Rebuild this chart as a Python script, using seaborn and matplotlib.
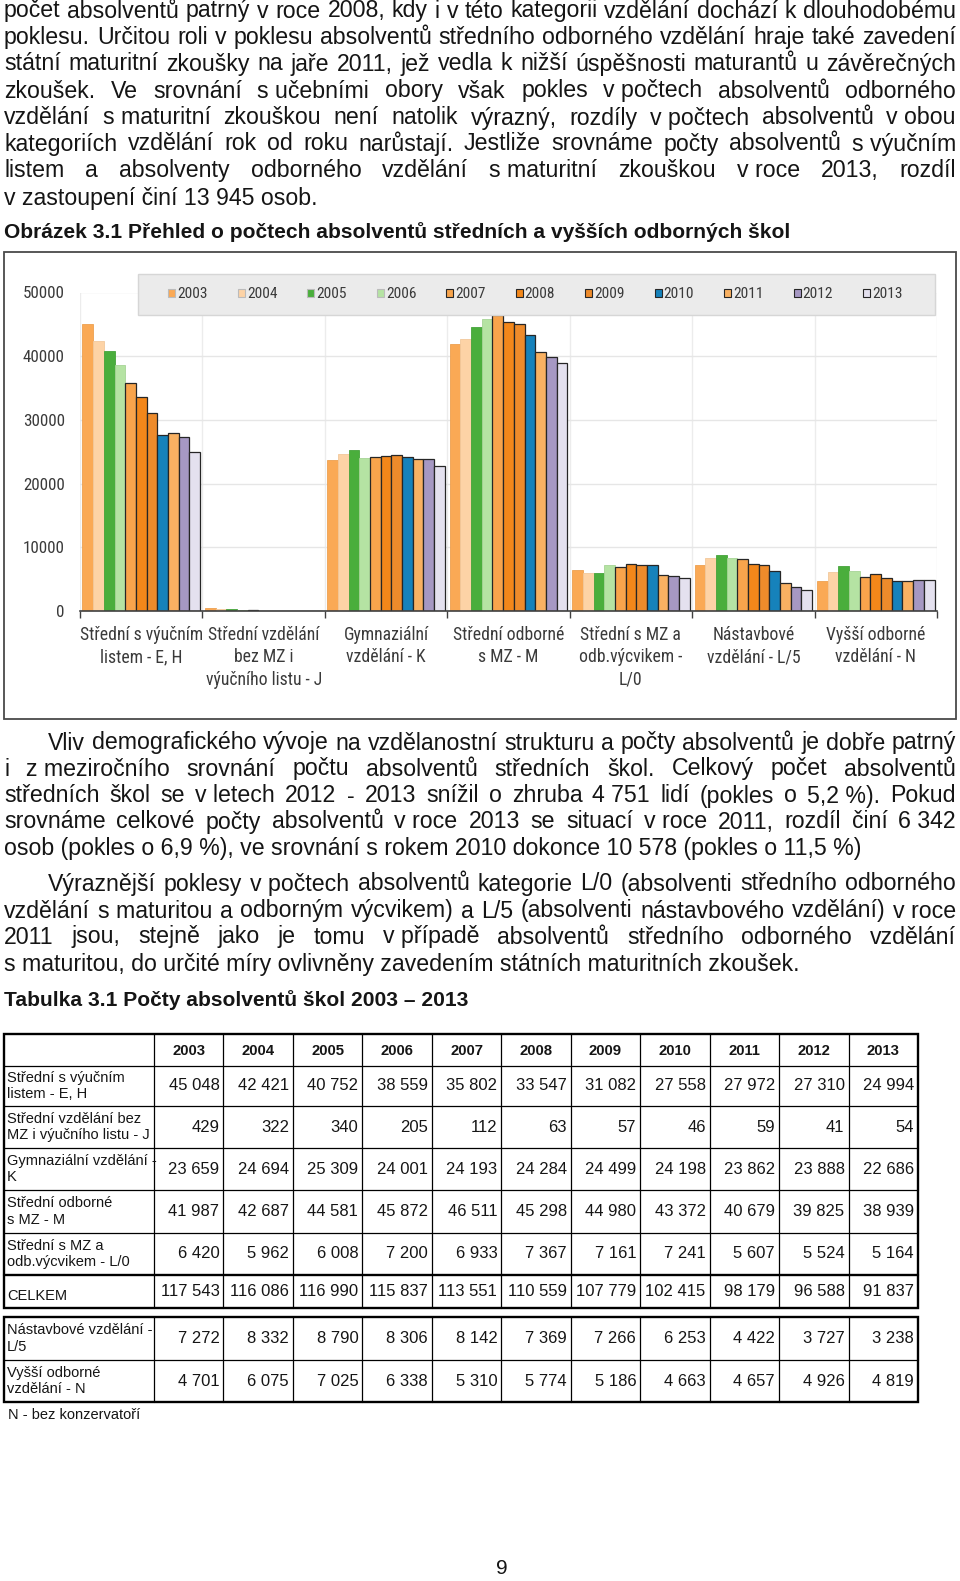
import matplotlib
matplotlib.use("Agg")
import numpy as np
import pandas as pd
import matplotlib.pyplot as plt
import seaborn as sns
from matplotlib import font_manager as fm
from matplotlib.patches import Rectangle, Patch

# ==========================================
# DATA
# ==========================================
roky = ["2003", "2004", "2005", "2006", "2007", "2008", "2009", "2010", "2011", "2012", "2013"]

kategorie_graf = [
    "Střední s výučním\nlistem - E, H",
    "Střední vzdělání\nbez MZ i\nvýučního listu - J",
    "Gymnaziální\nvzdělání - K",
    "Střední odborné\ns MZ - M",
    "Střední s MZ a\nodb.výcvikem -\nL/0",
    "Nástavbové\nvzdělání - L/5",
    "Vyšší odborné\nvzdělání - N",
]

eh = [45048, 42421, 40752, 38559, 35802, 33547, 31082, 27558, 27972, 27310, 24994]
j = [429, 322, 340, 205, 112, 63, 57, 46, 59, 41, 54]
k = [23659, 24694, 25309, 24001, 24193, 24284, 24499, 24198, 23862, 23888, 22686]
m = [41987, 42687, 44581, 45872, 46511, 45298, 44980, 43372, 40679, 39825, 38939]
l0 = [6420, 5962, 6008, 7200, 6933, 7367, 7161, 7241, 5607, 5524, 5164]
celkem = [117543, 116086, 116990, 115837, 113551, 110559, 107779, 102415, 98179, 96588, 91837]
l5 = [7272, 8332, 8790, 8306, 8142, 7369, 7266, 6253, 4422, 3727, 3238]
n = [4701, 6075, 7025, 6338, 5310, 5774, 5186, 4663, 4657, 4926, 4819]

radky_tabulky_1 = [
    ("Střední s výučním\nlistem - E, H", eh),
    ("Střední vzdělání bez\nMZ i výučního listu - J", j),
    ("Gymnaziální vzdělání -\nK", k),
    ("Střední odborné\ns MZ - M", m),
    ("Střední s MZ a\nodb.výcvikem - L/0", l0),
    ("CELKEM", celkem),
]
radky_tabulky_2 = [
    ("Nástavbové vzdělání -\nL/5", l5),
    ("Vyšší odborné\nvzdělání - N", n),
]

barvy = ["#FAA955", "#FDD3A6", "#4AAE3C", "#B5E3A3", "#F8A44C", "#F3871A",
         "#EE8B2B", "#1682BB", "#F9B162", "#A698C3", "#E4E1EF"]
okraje = ["#EDA050", "#F2C89C", "#45A33A", "#A6D496"] + ["#262626"] * 7

text_nahore = [
    "počet absolventů patrný v roce 2008, kdy i v této kategorii vzdělání dochází k dlouhodobému",
    "poklesu. Určitou roli v poklesu absolventů středního odborného vzdělání hraje také zavedení",
    "státní maturitní zkoušky na jaře 2011, jež vedla k nižší úspěšnosti maturantů u závěrečných",
    "zkoušek. Ve srovnání s\u00a0učebními obory však pokles v\u00a0počtech absolventů odborného",
    "vzdělání s\u00a0maturitní zkouškou není natolik výrazný, rozdíly v\u00a0počtech absolventů v\u00a0obou",
    "kategoriích vzdělání rok od roku narůstají. Jestliže srovnáme počty absolventů s\u00a0výučním",
    "listem a absolventy odborného vzdělání s\u00a0maturitní zkouškou v\u00a0roce 2013, rozdíl",
    "v\u00a0zastoupení činí 13\u00a0945 osob.",
]
odstavec_1 = [
    "Vliv demografického vývoje na vzdělanostní strukturu a počty absolventů je dobře patrný",
    "i z\u00a0meziročního srovnání počtu absolventů středních škol. Celkový počet absolventů",
    "středních škol se v\u00a0letech 2012 - 2013 snížil o zhruba 4\u00a0751 lidí (pokles o 5,2\u00a0%). Pokud",
    "srovnáme celkové počty absolventů v\u00a0roce 2013 se situací v\u00a0roce 2011, rozdíl činí 6\u00a0342",
    "osob (pokles o 6,9\u00a0%), ve srovnání s\u00a0rokem 2010 dokonce 10\u00a0578 (pokles o 11,5\u00a0%)",
]
odstavec_2 = [
    "Výraznější poklesy v\u00a0počtech absolventů kategorie L/0 (absolventi středního odborného",
    "vzdělání s\u00a0maturitou a odborným výcvikem) a L/5 (absolventi nástavbového vzdělání) v\u00a0roce",
    "2011 jsou, stejně jako je tomu v\u00a0případě absolventů středního odborného vzdělání",
    "s\u00a0maturitou, do určité míry ovlivněny zavedením státních maturitních zkoušek.",
]
nadpis_obr = "Obrázek 3.1 Přehled o počtech absolventů středních a vyšších odborných škol"
nadpis_tab = "Tabulka 3.1 Počty absolventů škol 2003 \u2013 2013"
poznamka = "N - bez konzervatoří"


def najdi(*rodiny):
    # prvni nainstalovana rodina ze seznamu
    for r in rodiny:
        try:
            fm.findfont(fm.FontProperties(family=r), fallback_to_default=False)
            return r
        except ValueError:
            pass
    return "Liberation Sans"


# ==========================================
# STRANKA
# ==========================================
sns.set_style("white")
plt.rcParams["font.family"] = ["Liberation Sans", "DejaVu Sans"]
UZKE = najdi("Liberation Sans Narrow", "Roboto Condensed", "Open Sans Condensed", "Lato")

W, H = 960, 1581
fig = plt.figure(figsize=(9.6, 15.81), dpi=100)
pg = fig.add_axes([0, 0, 1, 1], zorder=-1)
pg.set_xlim(0, W)
pg.set_ylim(H, 0)
pg.axis("off")
renderer = fig.canvas.get_renderer()
CERNA = "#151515"


def sirka(s, size, **kw):
    t = pg.text(0, 0, s, fontsize=size, **kw)
    w = t.get_window_extent(renderer).width
    t.remove()
    return w


def velikost(s, target, **kw):
    return 10 * target / sirka(s, 10, **kw)


def radek(s, x0, x1, y, size, justify=True, **kw):
    if not justify:
        pg.text(x0, y, s, fontsize=size, va="baseline", ha="left", color=CERNA, **kw)
        return
    slova = s.split(" ")
    w = [sirka(sl, size, **kw) for sl in slova]
    mezera = (x1 - x0 - sum(w)) / (len(slova) - 1)
    x = x0
    for sl, wi in zip(slova, w):
        pg.text(x, y, sl, fontsize=size, va="baseline", ha="left", color=CERNA, **kw)
        x += wi + mezera


fs_body = velikost(odstavec_1[-1], 858)
fs_bold = velikost(nadpis_obr, 786, fontweight="bold")
posun = 5.5

# horni text
y_nahore = [12, 38.5, 65, 92, 119, 145, 171.5, 199]
for i, (s, y) in enumerate(zip(text_nahore, y_nahore)):
    radek(s, 4, 956, y + posun, fs_body, justify=(i < len(text_nahore) - 1))
pg.text(4, 232 + posun, nadpis_obr, fontsize=fs_bold, fontweight="bold",
        va="baseline", color=CERNA)

# odstavce pod grafem
y_o1 = [744, 770, 797, 823, 850]
for i, (s, y) in enumerate(zip(odstavec_1, y_o1)):
    radek(s, 48 if i == 0 else 4, 956, y + posun, fs_body, justify=(i < len(odstavec_1) - 1))
y_o2 = [885, 912, 938, 965]
for i, (s, y) in enumerate(zip(odstavec_2, y_o2)):
    radek(s, 48 if i == 0 else 4, 956, y + posun, fs_body, justify=(i < len(odstavec_2) - 1))
pg.text(4, 1001 + posun, nadpis_tab, fontsize=fs_bold, fontweight="bold",
        va="baseline", color=CERNA)

# ==========================================
# GRAF
# ==========================================
pg.add_patch(Rectangle((4, 252), 952, 467, fill=False, edgecolor="#4a4a4a", lw=1.3))

ax = fig.add_axes([80 / W, 1 - 611 / H, (937 - 80) / W, (611 - 292.5) / H], zorder=0)
df = pd.DataFrame({
    "kategorie": np.repeat(kategorie_graf, len(roky)),
    "rok": roky * len(kategorie_graf),
    "pocet": eh + j + k + m + l0 + l5 + n,
})
sns.barplot(data=df, x="kategorie", y="pocet", hue="rok", order=kategorie_graf,
            hue_order=roky, palette=barvy, saturation=1, width=0.96,
            legend=False, ax=ax)
for i, cont in enumerate(ax.containers):
    for bar in cont:
        bar.set_edgecolor(okraje[i])
        bar.set_linewidth(0.9 if i >= 4 else 0.6)

ax.set_xlabel("")
ax.set_ylabel("")
ax.set_ylim(0, 50000)
ax.set_xlim(-0.5, 6.5)
ax.set_yticks(range(0, 50001, 10000))
ax.set_xticks(np.arange(-0.5, 7, 1), minor=True)
ax.yaxis.grid(True, color="#e6e6e6", lw=1)
ax.xaxis.grid(True, which="minor", color="#ececec", lw=1)
ax.xaxis.grid(False, which="major")
ax.set_axisbelow(True)
for s in ["top", "right", "left"]:
    ax.spines[s].set_visible(False)
ax.spines["bottom"].set_color("#404040")
ax.spines["bottom"].set_linewidth(1.2)

fs_ytick = velikost("50000", 41.5, family=UZKE)
fs_xtick = velikost("Střední s výučním", 122, family=UZKE)
ax.tick_params(axis="y", length=0, pad=11, labelsize=fs_ytick, labelcolor="#3a3a3a")
ax.tick_params(axis="x", which="major", length=0, pad=11, labelsize=fs_xtick,
               labelcolor="#3a3a3a")
ax.tick_params(axis="x", which="minor", length=5, width=1, color="#404040",
               direction="out", bottom=True)
for lbl in ax.get_yticklabels() + ax.get_xticklabels():
    lbl.set_family(UZKE)
for lbl in ax.get_xticklabels():
    lbl.set_linespacing(1.3)

# legenda
box = Rectangle((138 / W, 1 - 315 / H), (935 - 138) / W, (315 - 274) / H,
                transform=fig.transFigure, facecolor="#ebebeb", edgecolor="#d6d6d6",
                lw=1, zorder=3)
fig.add_artist(box)
handles = [Patch(facecolor=c, edgecolor=(e if i >= 4 else "#bbbbbb"), lw=0.8)
           for i, (c, e) in enumerate(zip(barvy, okraje))]
fs_leg = velikost("2003", 30, family=UZKE)
px_leg = fs_leg * 100 / 72  # jedna jednotka legendy v pixelech
leg = fig.legend(handles, roky, loc="center", ncol=11, frameon=False,
                 bbox_to_anchor=(535.5 / W, 1 - (274 + 315) / 2 / H),
                 prop={"family": UZKE, "size": fs_leg},
                 handlelength=7 / px_leg, handleheight=7 / px_leg,
                 handletextpad=2 / px_leg, columnspacing=30 / px_leg,
                 borderpad=0, labelcolor="#3a3a3a")
leg.set_zorder(4)

# ==========================================
# TABULKA
# ==========================================
x_sl = [4, 154] + [154 + i * (918 - 154) / 11 for i in range(1, 12)]
fs_val = velikost("117 543", 59)
fs_lab = velikost("Střední vzdělání bez", 134)
fs_hdr = velikost("2003", 33, fontweight="bold")
tenka, tlusta = 0.9, 1.7


def blok(y_hranice, radky, hlavicka):
    y0, y1 = y_hranice[0], y_hranice[-1]
    for yh in y_hranice[1:-1]:
        lw = tlusta if (yh == y_hranice[-2] and len(radky) > 2) else tenka
        pg.plot([4, 918], [yh, yh], color="black", lw=lw)
    for xs in x_sl[1:-1]:
        pg.plot([xs, xs], [y0, y1], color="black", lw=tenka)
    pg.add_patch(Rectangle((4, y0), 914, y1 - y0, fill=False, edgecolor="black", lw=tlusta))
    start = 0
    if hlavicka:
        yc = (y_hranice[0] + y_hranice[1]) / 2 + 1
        for c, rok in enumerate(roky):
            pg.text((x_sl[c + 1] + x_sl[c + 2]) / 2, yc, rok, fontsize=fs_hdr,
                    fontweight="bold", ha="center", va="center", color=CERNA)
        start = 1
    for r, (nazev, hodnoty) in enumerate(radky):
        ya, yb = y_hranice[start + r], y_hranice[start + r + 1]
        yc = (ya + yb) / 2
        pg.text(7, yc + (4 if nazev == "CELKEM" else 0), nazev, fontsize=fs_lab,
                ha="left", va="center", linespacing=1.25, color=CERNA)
        for c, v in enumerate(hodnoty):
            pg.text(x_sl[c + 2] - 4, yc, f"{v:,}".replace(",", " "), fontsize=fs_val,
                    ha="right", va="center", color=CERNA)


blok([1034, 1066, 1106, 1148, 1190, 1233, 1275, 1308], radky_tabulky_1, True)
blok([1317, 1360, 1402], radky_tabulky_2, False)
pg.text(8, 1415, poznamka, fontsize=fs_lab, ha="left", va="center", color=CERNA)

pg.text(502, 1568, "9", fontsize=15, ha="center", va="center", color=CERNA)

fig.savefig("out.png", dpi=100, facecolor="white")
